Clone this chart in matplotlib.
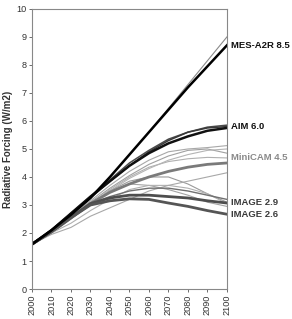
#!/usr/bin/env python3

import matplotlib

matplotlib.use("Agg")
import matplotlib.pyplot as plt

plt.rcParams["font.family"] = ["Liberation Sans", "DejaVu Sans"]

years = [2000, 2010, 2020, 2030, 2040, 2050, 2060, 2070, 2080, 2090, 2100]

# labelled scenarios
mes_a2r = [1.6, 2.1, 2.65, 3.25, 4.0, 4.8, 5.6, 6.4, 7.2, 7.95, 8.7]
aim = [1.6, 2.1, 2.7, 3.3, 3.85, 4.4, 4.85, 5.2, 5.45, 5.65, 5.75]
minicam = [1.6, 2.05, 2.55, 3.05, 3.45, 3.75, 4.0, 4.2, 4.35, 4.45, 4.5]
image_29 = [1.6, 2.05, 2.55, 3.05, 3.25, 3.35, 3.35, 3.3, 3.25, 3.15, 3.07]
image_26 = [1.6, 2.05, 2.55, 3.0, 3.15, 3.22, 3.2, 3.07, 2.95, 2.8, 2.67]

# other literature scenarios
mes_thin = [1.6, 2.1, 2.65, 3.25, 4.0, 4.8, 5.6, 6.45, 7.3, 8.15, 9.0]
dark_a = [1.6, 2.1, 2.7, 3.3, 3.9, 4.5, 4.95, 5.35, 5.6, 5.78, 5.85]
dark_b = [1.6, 2.1, 2.7, 3.25, 3.85, 4.4, 4.9, 5.3, 5.6, 5.75, 5.8]
mid_a = [1.6, 2.05, 2.6, 3.15, 3.7, 4.2, 4.6, 4.9, 5.0, 5.05, 5.12]
mid_b = [1.6, 2.05, 2.6, 3.1, 3.6, 4.05, 4.45, 4.75, 4.95, 5.0, 4.85]
mid_c = [1.6, 2.0, 2.5, 3.05, 3.55, 4.0, 4.35, 4.55, 4.65, 4.7, 4.68]
mid_d = [1.6, 2.0, 2.5, 3.0, 3.5, 3.95, 4.3, 4.6, 4.8, 4.95, 5.0]
down_a = [1.6, 2.0, 2.5, 3.0, 3.5, 3.85, 4.0, 4.0, 3.75, 3.4, 3.1]
down_b = [1.6, 2.05, 2.55, 3.05, 3.5, 3.75, 3.7, 3.55, 3.35, 3.1, 2.95]
down_c = [1.6, 2.0, 2.35, 2.8, 3.2, 3.55, 3.7, 3.7, 3.6, 3.4, 3.05]
low_a = [1.6, 1.95, 2.2, 2.6, 2.9, 3.2, 3.5, 3.7, 3.85, 4.0, 4.15]
mid_dark = [1.6, 2.05, 2.55, 3.05, 3.3, 3.5, 3.6, 3.6, 3.5, 3.35, 3.2]

y_ticks = list(range(0, 11))


def main():
    fig = plt.figure(figsize=(2.92, 3.19), dpi=100)
    ax = fig.add_axes([0.1096, 0.094, 0.6675, 0.878])

    thin = [
        (mes_thin, "#8a8a8a", 0.8),
        (mid_a, "#a8a8a8", 0.8),
        (mid_b, "#a0a0a0", 0.8),
        (mid_c, "#b0b0b0", 0.8),
        (mid_d, "#b4b4b4", 0.8),
        (down_a, "#9a9a9a", 0.8),
        (down_b, "#a4a4a4", 0.8),
        (down_c, "#b0b0b0", 0.8),
        (low_a, "#a8a8a8", 0.8),
        (mid_dark, "#707070", 1.0),
        (dark_a, "#4a4a4a", 1.1),
        (dark_b, "#3a3a3a", 1.1),
    ]
    for values, color, lw in thin:
        ax.plot(years, values, color=color, linewidth=lw)

    bold = [
        (minicam, "#7a7a7a", 2.0, "MiniCAM 4.5", "#8a8a8a", 4.7),
        (image_29, "#4e4e4e", 2.0, "IMAGE 2.9", "#3a3a3a", 3.1),
        (image_26, "#555555", 2.0, "IMAGE 2.6", "#3a3a3a", 2.67),
        (aim, "#111111", 1.8, "AIM 6.0", "#111111", 5.8),
        (mes_a2r, "#000000", 1.8, "MES-A2R 8.5", "#111111", 8.7),
    ]
    for values, color, lw, label, text_color, y_text in bold:
        ax.plot(years, values, color=color, linewidth=lw)
        ax.text(2102, y_text, label, color=text_color, fontsize=6.8,
                fontweight="bold", va="center", ha="left", clip_on=False)

    ax.set_xlim(2000, 2100)
    ax.set_ylim(0, 10)
    ax.set_xticks(years)
    ax.set_xticklabels([str(y) for y in years], rotation=90)
    ax.set_yticks(y_ticks)
    ax.tick_params(axis="both", labelsize=6.6, colors="#555555",
                   labelcolor="#333333", length=2.5, width=0.6, pad=1.5)
    for spine in ax.spines.values():
        spine.set_color("#888888")
        spine.set_linewidth(0.8)
    ax.set_ylabel("Radiative Forcing (W/m2)", fontsize=7, fontweight="bold",
                  color="#333333", labelpad=2)

    fig.savefig("out.png", dpi=100)
    plt.close(fig)


if __name__ == "__main__":
    main()
